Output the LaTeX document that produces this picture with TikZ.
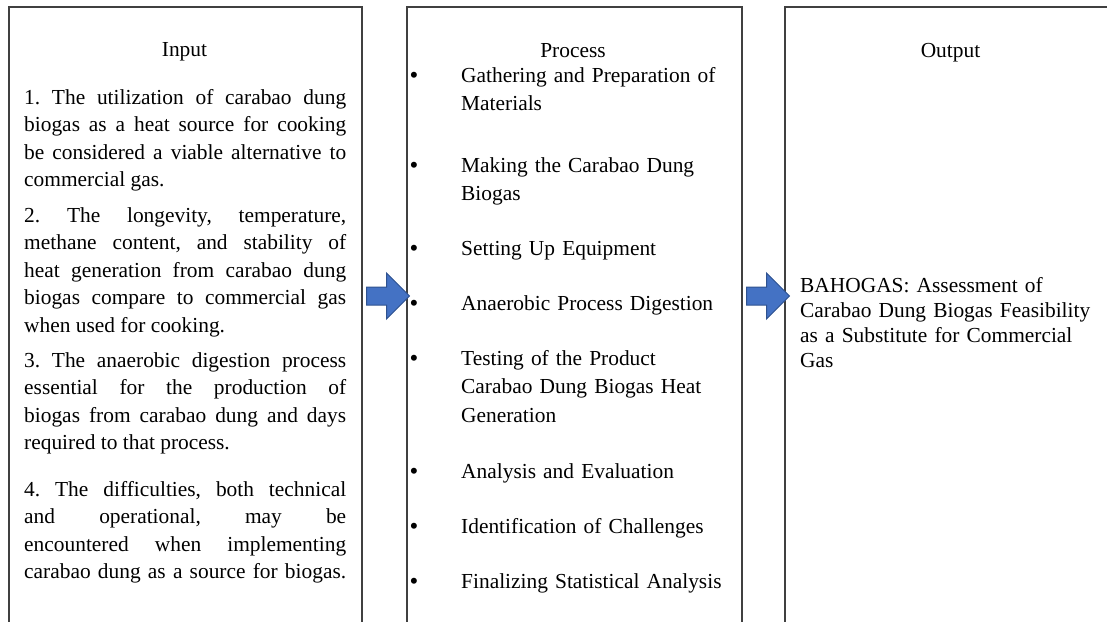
\documentclass[tikz,border=0pt]{standalone}
\usepackage{fontspec}
\setmainfont{Liberation Serif}
\usetikzlibrary{positioning}
\definecolor{framegray}{RGB}{64,64,64}
\definecolor{arrowblue}{RGB}{68,114,196}
\definecolor{arrowedge}{RGB}{47,82,143}
\pretolerance=10000
\tolerance=10000
\hbadness=10000
\hyphenpenalty=10000
\frenchspacing

\begin{document}
\begin{tikzpicture}[x=1pt, y=-1pt,
    colbox/.style={draw=framegray, line width=1.5pt, minimum width=#1, minimum height=660pt, anchor=north west, inner sep=0pt},
    heading/.style={anchor=base, inner sep=0pt, font=\fontsize{21.4}{27.5}\selectfont},
    para/.style={anchor=base west, text width=322pt, inner sep=0pt, align=justify, font=\fontsize{21.4}{27.5}\selectfont},
    item/.style={anchor=base west, text width=270pt, inner sep=0pt, align=left, font=\fontsize{21.4}{28.5}\selectfont},
    dot/.style={anchor=base, inner sep=0pt, font=\fontsize{25}{28.5}\selectfont},
    blockarrow/.style={fill=arrowblue, draw=arrowedge, line width=1pt, line join=miter}]
\clip (0,0) rectangle (1107,621);

% Columns
\node[colbox=353pt] (inbox) at (8,6) {};
\node[colbox=335pt] (procbox) at (406,6) {};
\node[colbox=333pt] (outbox) at (784,6) {};

\node[heading] (inhead) at (184.5,56) {Input};
\node[heading] (prochead) at (573,57) {Process};
\node[heading] (outhead) at (950.5,57) {Output};

% Input
\node[para] (in1) at (24,104) {1. The utilization of carabao dung\linebreak
    biogas as a heat source for cooking\linebreak
    be considered a viable alternative to\linebreak
    commercial gas.};
\node[para] (in2) at (24,222) {2. The longevity, temperature,\linebreak
    methane content, and stability of\linebreak
    heat generation from carabao dung\linebreak
    biogas compare to commercial gas\linebreak
    when used for cooking.};
\node[para] (in3) at (24,367) {3. The anaerobic digestion process\linebreak
    essential for the production of\linebreak
    biogas from carabao dung and days\linebreak
    required to that process.};
\node[para] (in4) at (24,496) {4. The difficulties, both technical\linebreak
    and operational, may be\linebreak
    encountered when implementing\linebreak
    \makebox[\linewidth][s]{carabao dung as a source for biogas.}};

% Process
\node[item] (p1) at (461,82) {Gathering and Preparation of\\Materials};
\node[item] (p2) at (461,172) {Making the Carabao Dung\\Biogas};
\node[item] (p3) at (461,255) {Setting Up Equipment};
\node[item] (p4) at (461,310) {Anaerobic Process Digestion};
\node[item] (p5) at (461,365) {Testing of the Product\\Carabao Dung Biogas Heat\\Generation};
\node[item] (p6) at (461,478) {Analysis and Evaluation};
\node[item] (p7) at (461,533) {Identification of Challenges};
\node[item] (p8) at (461,588) {Finalizing Statistical Analysis};
\foreach \p in {p1,p2,p3,p4,p5,p6,p7,p8}
    \node[dot] at ([xshift=-47pt, yshift=-1.5pt]\p.base west) {\textbullet};

% Output
\node[item, text width=300pt, font=\fontsize{21.4}{25}\selectfont] (res) at (800,292)
    {BAHOGAS: Assessment of\\Carabao Dung Biogas Feasibility\\as a Substitute for Commercial\\Gas};

% Arrows
\coordinate (a1) at (inbox.east |- 0,296);
\coordinate (a2) at (procbox.east |- 0,296);
\foreach \a in {a1,a2}
    \draw[blockarrow] ([xshift=4pt]\a) ++(0,-9) -- ++(20,0) -- ++(0,-14) -- ++(23,23)
        -- ++(-23,23) -- ++(0,-14) -- ++(-20,0) -- cycle;
\end{tikzpicture}
\end{document}
